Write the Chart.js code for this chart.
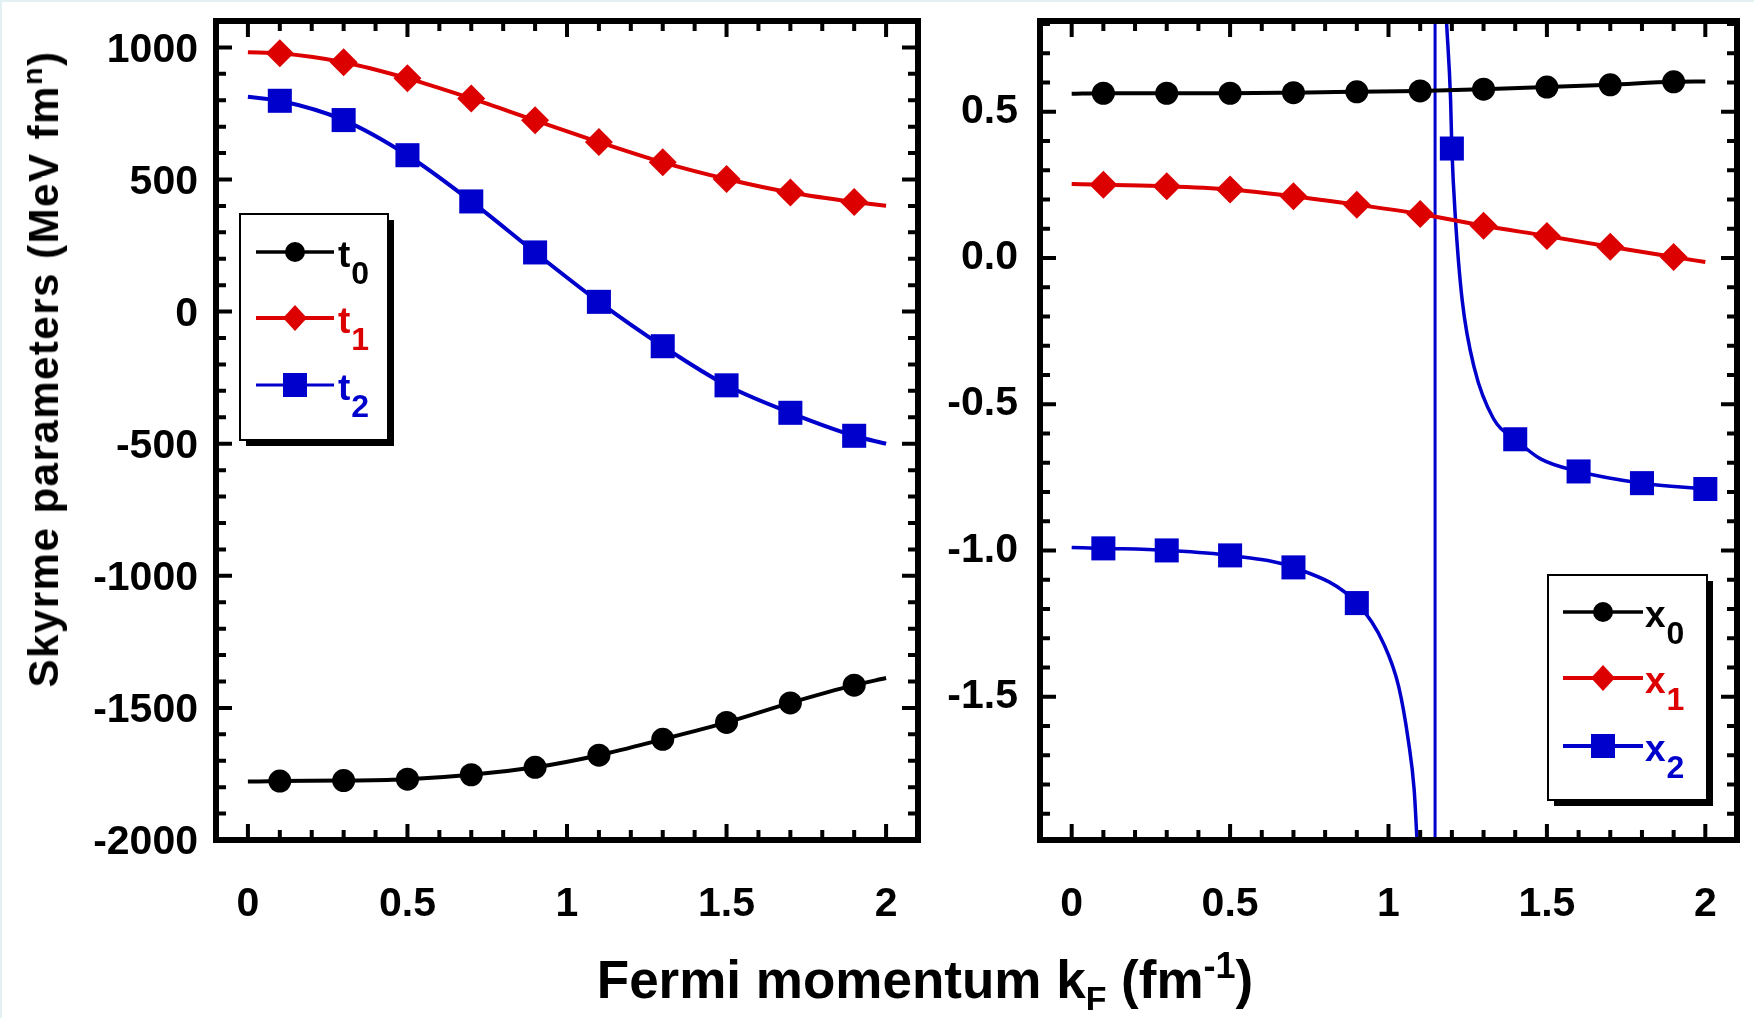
<!DOCTYPE html>
<html>
<head>
<meta charset="utf-8">
<script src="https://cdn.jsdelivr.net/npm/chart.js@4.4.1/dist/chart.umd.min.js"></script>
<style>
  html, body { margin: 0; padding: 0; background: #fff; }
  body { width: 1754px; height: 1018px; position: relative; overflow: hidden;
         font-family: "Liberation Sans", Arial, sans-serif; }
  .edgeTop { position: absolute; left: 0; top: 0; width: 1754px; height: 2px; background: #e2f0f2; }
  .edgeLeft { position: absolute; left: 0; top: 0; width: 2px; height: 1018px; background: #e2f0f2; }
  #leftBox { position: absolute; left: 0; top: 0; }
  #rightBox { position: absolute; left: 930px; top: 0; }
  .ytitle { position: absolute; left: 44px; top: 369px; white-space: nowrap;
            transform: translate(-50%, -50%) rotate(-90deg);
            font-weight: bold; font-size: 42px; letter-spacing: 1.5px; }
  .xtitle { position: absolute; left: 925px; top: 953px; white-space: nowrap;
            transform: translateX(-50%); font-weight: bold; font-size: 53px; line-height: 53px; }
  sup { font-size: 68%; vertical-align: baseline; position: relative; top: -0.55em; }
  sub { font-size: 64%; vertical-align: baseline; position: relative; top: 0.35em; }
</style>
</head>
<body>
<div class="edgeTop"></div>
<div class="edgeLeft"></div>
<div id="leftBox"><canvas id="leftChart" width="930" height="1018"></canvas></div>
<div id="rightBox"><canvas id="rightChart" width="824" height="1018"></canvas></div>
<div class="ytitle">Skyrme parameters (MeV fm<sup>n</sup>)</div>
<div class="xtitle">Fermi momentum k<sub>F</sub> (fm<sup>-1</sup>)</div>
<script>
// Fermi momentum grid (fm^-1) for the curves, and where the markers sit
const kLine = [0, 0.1, 0.3, 0.5, 0.7, 0.9, 1.1, 1.3, 1.5, 1.7, 1.9, 2.0];
const kMarks = [0.1, 0.3, 0.5, 0.7, 0.9, 1.1, 1.3, 1.5, 1.7, 1.9];

// left panel: t0, t1, t2 (MeV fm^n)
const t0 = [-1779, -1777, -1775, -1770, -1753, -1725, -1679, -1619, -1555, -1481, -1414, -1387];
const t1 = [982, 978, 944, 883, 807, 724, 642, 565, 502, 451, 415, 401];
const t2 = [813, 798, 725, 592, 417, 224, 37, -131, -279, -383, -470, -500];

// right panel: x0, x1
const x0 = [0.561, 0.563, 0.563, 0.563, 0.565, 0.568, 0.571, 0.577, 0.584, 0.592, 0.602, 0.603];
const x1 = [0.253, 0.250, 0.245, 0.234, 0.211, 0.182, 0.150, 0.110, 0.075, 0.038, 0.003, -0.014];

// x2 has a pole near kF = 1.145, two branches
const x2LeftK = [0, 0.1, 0.3, 0.5, 0.7, 0.9, 0.987, 1.032, 1.063, 1.081, 1.09];
const x2Left = [-0.99, -0.993, -1.0, -1.017, -1.058, -1.18, -1.324, -1.465, -1.653, -1.818, -1.99];
const x2RightK = [1.183, 1.196, 1.2, 1.211, 1.233, 1.271, 1.331, 1.4, 1.48, 1.6, 1.8, 2.0];
const x2Right = [0.81, 0.54, 0.374, 0.139, -0.148, -0.377, -0.549, -0.62, -0.687, -0.73, -0.77, -0.79];
const x2Marks = [0.1, 0.3, 0.5, 0.7, 0.9, 1.2, 1.4, 1.6, 1.8, 2.0];
const x2Pole = 1.147;

// tick labels
const kTicks = [0, 0.5, 1, 1.5, 2];
const tTicks = [-2000, -1500, -1000, -500, 0, 500, 1000];
const xTicks = [-1.5, -1.0, -0.5, 0.0, 0.5];

const RED = 'rgb(221,0,0)';
const BLUE = 'rgb(0,0,204)';
const FONT = '"Liberation Sans", Arial, sans-serif';

const series = (xs, ys, color, style, radius, marks, width) => ({
  data: xs.map((x, i) => ({ x: x, y: ys[i] })),
  showLine: true,
  borderColor: color,
  backgroundColor: color,
  borderWidth: width,
  pointStyle: style,
  pointRadius: (c) => marks.includes(xs[c.dataIndex]) ? radius : 0,
  pointBorderWidth: 0,
  pointHoverRadius: 0,
  cubicInterpolationMode: 'monotone'
});

// frame with inward ticks on all four sides
const frameTicks = {
  id: 'frameTicks',
  afterDatasetsDraw(chart, args, opts) {
    const { ctx, chartArea: a, scales } = chart;
    const sx = scales.x, sy = scales.y;
    ctx.save();
    ctx.strokeStyle = '#000';
    ctx.lineWidth = 4;
    ctx.beginPath();
    const isMajor = (v, step) => Math.abs(v / step - Math.round(v / step)) < 1e-6;
    for (let i = Math.ceil(sx.min / opts.xMinor - 1e-6); i * opts.xMinor <= sx.max + 1e-6; i++) {
      const v = i * opts.xMinor;
      const len = isMajor(v, opts.xMajor) ? 16 : 10;
      const px = sx.getPixelForValue(v);
      ctx.moveTo(px, a.bottom); ctx.lineTo(px, a.bottom - len);
      ctx.moveTo(px, a.top); ctx.lineTo(px, a.top + len);
    }
    for (let i = Math.ceil(sy.min / opts.yMinor - 1e-6); i * opts.yMinor <= sy.max + 1e-6; i++) {
      const v = i * opts.yMinor;
      const len = isMajor(v, opts.yMajor) ? 16 : 10;
      const py = sy.getPixelForValue(v);
      ctx.moveTo(a.left, py); ctx.lineTo(a.left + len, py);
      ctx.moveTo(a.right, py); ctx.lineTo(a.right - len, py);
    }
    ctx.stroke();
    ctx.lineWidth = 6;
    ctx.strokeRect(a.left, a.top, a.width, a.height);
    ctx.restore();
  }
};

// boxed legend with a drop shadow and subscripted labels
const boxLegend = {
  id: 'boxLegend',
  afterDraw(chart, args, opts) {
    const ctx = chart.ctx;
    const b = opts.box;
    ctx.save();
    ctx.fillStyle = '#000';
    ctx.fillRect(b.x + 6, b.y + 6, b.w, b.h);
    ctx.fillStyle = '#fff';
    ctx.fillRect(b.x, b.y, b.w, b.h);
    ctx.lineWidth = 2;
    ctx.strokeStyle = '#000';
    ctx.strokeRect(b.x, b.y, b.w, b.h);
    const mx = (opts.x0 + opts.x1) / 2;
    opts.items.forEach((it, i) => {
      const y = opts.rows[i];
      ctx.strokeStyle = it.color;
      ctx.fillStyle = it.color;
      ctx.lineWidth = it.width;
      ctx.beginPath();
      ctx.moveTo(opts.x0, y);
      ctx.lineTo(opts.x1, y);
      ctx.stroke();
      ctx.beginPath();
      if (it.style === 'circle') {
        ctx.arc(mx, y, 10, 0, Math.PI * 2);
      } else if (it.style === 'rectRot') {
        ctx.moveTo(mx, y - 13); ctx.lineTo(mx + 12, y); ctx.lineTo(mx, y + 13); ctx.lineTo(mx - 12, y);
        ctx.closePath();
      } else {
        ctx.rect(mx - 12, y - 12, 24, 24);
      }
      ctx.fill();
      ctx.font = 'bold 37px ' + FONT;
      ctx.textBaseline = 'alphabetic';
      ctx.fillText(it.sym, opts.tx, y + 15);
      const w = ctx.measureText(it.sym).width;
      ctx.font = 'bold 32px ' + FONT;
      ctx.fillText(it.sub, opts.tx + w + 1, y + 32);
    });
    ctx.restore();
  }
};

const tickFont = { family: FONT, size: 41, weight: 'bold' };

const makeScales = (xMin, xMax, yMin, yMax, yVals, yWidth, yPad, yShift, fmt) => ({
  x: {
    type: 'linear', min: xMin, max: xMax,
    grid: { display: false, drawTicks: false }, border: { display: false },
    afterBuildTicks: (s) => { s.ticks = kTicks.map(v => ({ value: v })); },
    afterFit: (s) => { s.height = 178; s.paddingLeft = 0; s.paddingRight = 0; },
    ticks: { font: tickFont, color: '#000', padding: 40, maxRotation: 0,
             callback: (v) => String(v) }
  },
  y: {
    type: 'linear', min: yMin, max: yMax,
    grid: { display: false, drawTicks: false }, border: { display: false },
    afterBuildTicks: (s) => { s.ticks = yVals.map(v => ({ value: v })); },
    afterFit: (s) => { s.width = yWidth; s.paddingTop = 0; s.paddingBottom = 0; },
    ticks: { font: tickFont, color: '#000', padding: yPad, labelOffset: yShift, callback: fmt }
  }
});

const baseOpts = {
  responsive: false,
  animation: false,
  events: [],
  plugins: { legend: { display: false }, tooltip: { enabled: false } }
};

new Chart(document.getElementById('leftChart'), {
  type: 'scatter',
  data: {
    datasets: [
      series(kLine, t0, '#000', 'circle', 11.5, kMarks, 4),
      series(kLine, t1, RED, 'rectRot', 14, kMarks, 4),
      series(kLine, t2, BLUE, 'rect', 17, kMarks, 4)
    ]
  },
  options: Object.assign({}, baseOpts, {
    layout: { padding: { top: 21, right: 12, left: 0, bottom: 0 } },
    scales: makeScales(-0.1, 2.1, -2000, 1100, tTicks, 216, 18, 3, (v) => String(v)),
    plugins: Object.assign({}, baseOpts.plugins, {
      frameTicks: { xMinor: 0.1, xMajor: 0.5, yMinor: 100, yMajor: 500 },
      boxLegend: {
        box: { x: 240, y: 214, w: 148, h: 226 },
        rows: [252, 318, 385], x0: 256, x1: 334, tx: 338,
        items: [
          { sym: 't', sub: '0', color: '#000', style: 'circle', width: 3.5 },
          { sym: 't', sub: '1', color: RED, style: 'rectRot', width: 4 },
          { sym: 't', sub: '2', color: BLUE, style: 'rect', width: 3 }
        ]
      }
    })
  }),
  plugins: [frameTicks, boxLegend]
});

new Chart(document.getElementById('rightChart'), {
  type: 'scatter',
  data: {
    datasets: [
      series(kLine, x0, '#000', 'circle', 11.5, kMarks, 4),
      series(kLine, x1, RED, 'rectRot', 14, kMarks, 4),
      series(x2LeftK, x2Left, BLUE, 'rect', 17, x2Marks, 3.5),
      series(x2RightK, x2Right, BLUE, 'rect', 17, x2Marks, 3.5),
      {
        data: [{ x: x2Pole, y: -1.99 }, { x: x2Pole, y: 0.81 }],
        showLine: true, borderColor: BLUE, borderWidth: 3, pointRadius: 0
      }
    ]
  },
  options: Object.assign({}, baseOpts, {
    layout: { padding: { top: 21, right: 14, left: 0, bottom: 0 } },
    scales: makeScales(-0.1, 2.1, -1.99, 0.81, xTicks, 110, 22, 0, (v) => v.toFixed(1)),
    plugins: Object.assign({}, baseOpts.plugins, {
      frameTicks: { xMinor: 0.1, xMajor: 0.5, yMinor: 0.1, yMajor: 0.5 },
      boxLegend: {
        box: { x: 618, y: 575, w: 159, h: 225 },
        rows: [612, 678, 746], x0: 633, x1: 713, tx: 715,
        items: [
          { sym: 'x', sub: '0', color: '#000', style: 'circle', width: 3.5 },
          { sym: 'x', sub: '1', color: RED, style: 'rectRot', width: 4 },
          { sym: 'x', sub: '2', color: BLUE, style: 'rect', width: 4 }
        ]
      }
    })
  }),
  plugins: [frameTicks, boxLegend]
});
</script>
</body>
</html>
